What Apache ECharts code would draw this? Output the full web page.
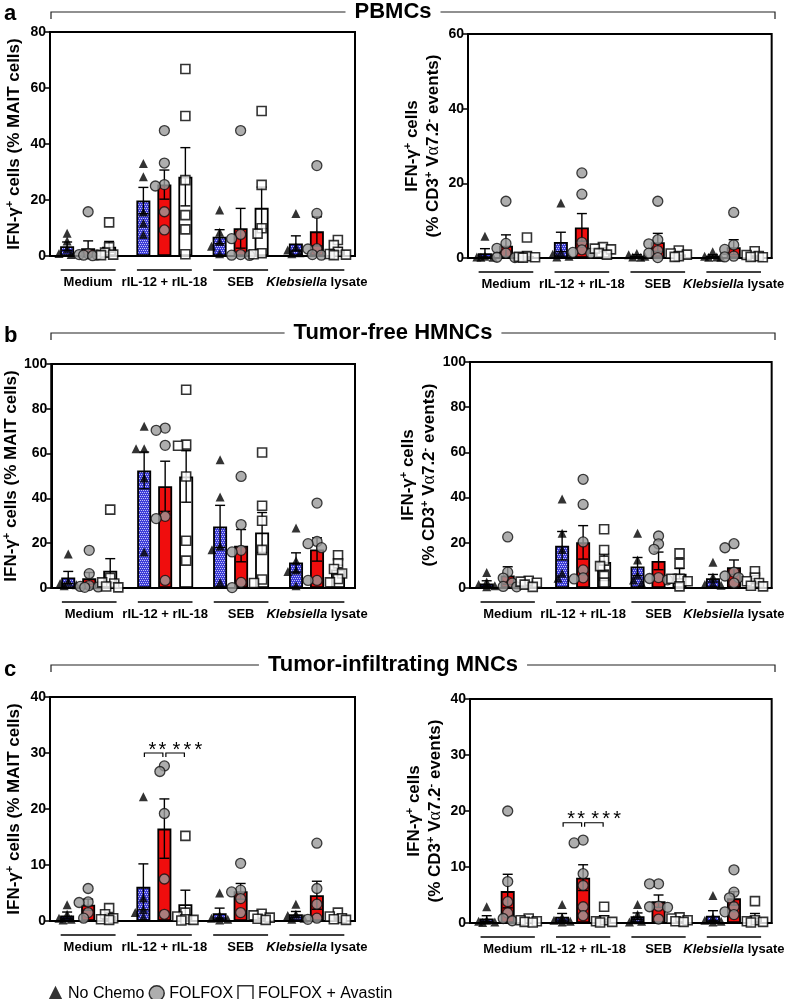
<!DOCTYPE html>
<html>
<head>
<meta charset="utf-8">
<script src="https://cdn.jsdelivr.net/npm/echarts@6/dist/echarts.min.js"></script>
<style>
  html, body { margin: 0; padding: 0; background: #fff; }
  #chart { width: 787px; height: 999px; }
</style>
</head>
<body>
<div id="chart"></div>
<script>
const categories = ['Medium', 'rIL-12 + rIL-18', 'SEB', 'Klebsiella lysate'];
const groups = ['No Chemo', 'FOLFOX', 'FOLFOX + Avastin'];
const sections = ['PBMCs', 'Tumor-free HMNCs', 'Tumor-infiltrating MNCs'];
const panelLetters = ['a', 'b', 'c'];
const sigLabels = ['**', '***'];

// rows = No Chemo, FOLFOX, FOLFOX + Avastin ; columns = categories
// a) PBMCs, % MAIT cells
const pbmcMaitMean = [[3.5, 19.8, 6.9, 4.5], [2.8, 25.5, 9.9, 8.8], [3.3, 28.3, 17.2, 2.1]];
const pbmcMaitSem = [[1.5, 4.7, 2.5, 2.7], [2.6, 5.2, 7.1, 5.2], [1.9, 10.4, 7.4, 0.9]];
const pbmcMaitPoints = [
    [[8.1, 5.4, 2.5, 0.9, 0.5], [33, 28.3, 15.7, 11.7, 7.7], [16.4, 8.5, 5.2, 3.5, 0.8], [15.2, 3.2, 2.1, 1.2, 0.8]],
    [[15.8, 0.8, 0.5, 0.4, 0.3, 0.1], [44.8, 33.2, 25.5, 25, 15.8, 9.3], [44.8, 7.7, 6.2, 0.5, 0.3, 0.2], [32.3, 15.2, 2.6, 2.5, 0.5, 0.3]],
    [[12, 3.1, 1.2, 0.5, 0.3], [66.8, 50, 27.1, 14.6, 9.5, 0.6], [51.8, 25.4, 9.9, 8, 1, 0.6], [5.7, 3.9, 1.5, 0.7, 0.5, 0.3]]
];
// a) PBMCs, % CD3+ Va7.2- events
const pbmcCd3Mean = [[1.3, 4.3, 0.6, 0.6], [3.3, 8.2, 4.2, 2.9], [0.5, 2.3, 1.0, 0.7]];
const pbmcCd3Sem = [[1.2, 2.6, 0.3, 0.3], [2.9, 3.7, 2.4, 2.0], [1.0, 0.4, 0.3, 0.3]];
const pbmcCd3Points = [
    [[5.8, 0.5, 0.3, 0.2, 0.2], [14.7, 1.5, 1.0, 0.5, 0.3], [1.2, 0.9, 0.5, 0.3, 0.2], [1.7, 0.5, 0.3, 0.2, 0.2]],
    [[15.2, 3.9, 2.6, 1.3, 0.2, 0.1], [22.8, 17.1, 4.2, 2.2, 1.5, 1.3], [15.2, 4.9, 3.8, 2.0, 1.3, 0.1], [12.2, 3.5, 2.3, 0.5, 0.3]],
    [[5.5, 0.5, 0.3, 0.2, 0.1], [2.9, 2.5, 2.3, 1.3, 0.9], [2.0, 1.2, 0.9, 0.5, 0.3], [1.8, 0.8, 0.5, 0.3, 0.2]]
];
// b) Tumor-free HMNCs, % MAIT cells
const hmncMaitMean = [[4.7, 52.5, 27.5, 11.4], [4.3, 45.4, 18.9, 17.2], [7.7, 49.8, 24.8, 8.3]];
const hmncMaitSem = [[2.7, 8.2, 9.4, 4.3], [2.6, 11.2, 7.2, 5.2], [5.4, 11.5, 8.9, 1.9]];
const hmncMaitPoints = [
    [[15.2, 3.0, 2.0, 1.5, 1.0], [72.2, 62.2, 62.2, 49.1, 16.1], [57.3, 40.6, 18.6, 17.1, 2.5], [26.8, 12.2, 8.0, 7.4, 1.0]],
    [[16.8, 6.4, 1.1, 0.7, 0.5, 0.3], [71.4, 70.4, 63.7, 32.0, 31.0, 3.4], [49.8, 28.3, 16.8, 16.1, 2.5, 0.2], [37.9, 20.8, 19.8, 18.0, 3.4, 3.4]],
    [[35.0, 4.5, 2.5, 2.0, 0.7, 0.3], [88.5, 64.0, 63.5, 49.8, 21.1, 12.2], [60.5, 36.7, 30.0, 17.0, 3.8, 2.2], [14.6, 11.0, 8.5, 6.5, 4.0, 2.5]]
];
// b) Tumor-free HMNCs, % CD3+ Va7.2- events
const hmncCd3Mean = [[2.0, 18.7, 9.5, 4.3], [5.5, 20.2, 12.0, 9.2], [2.0, 11.5, 6.3, 3.0]];
const hmncCd3Sem = [[1.2, 6.3, 4.0, 1.7], [3.9, 7.4, 3.9, 3.2], [0.6, 3.6, 2.3, 1.1]];
const hmncCd3Points = [
    [[6.9, 2.6, 1.5, 1.0, 0.5], [39.4, 24.2, 17.0, 6.5, 4.3], [24.2, 12.4, 5.8, 3.5, 2.2], [11.4, 4.9, 2.0, 1.5, 1.2]],
    [[22.6, 7.0, 4.4, 2.2, 0.7, 0.5], [48.1, 37.0, 20.4, 8.0, 4.5, 4.0], [23.0, 19.5, 17.1, 4.6, 4.2, 3.6], [19.6, 17.8, 7.0, 5.3, 4.6, 2.2]],
    [[3.2, 2.8, 2.3, 1.5, 0.5], [26.0, 16.8, 12.1, 9.7, 5.3, 2.4], [15.3, 10.8, 4.1, 4.1, 3.0, 0.7], [7.4, 4.6, 3.0, 2.2, 1.0, 0.7]]
];
// c) Tumor-infiltrating MNCs, % MAIT cells
const tilMaitMean = [[1.0, 6.1, 1.4, 1.2], [2.9, 16.5, 5.3, 4.6], [0.9, 3.0, 0.7, 0.6]];
const tilMaitSem = [[0.6, 4.1, 0.9, 0.5], [1.0, 5.3, 1.4, 2.5], [0.4, 2.5, 0.2, 0.2]];
const tilMaitPoints = [
    [[2.9, 1.2, 0.5, 0.3, 0.2], [22.2, 4.1, 2.0, 1.5, 0.7], [5.0, 1.0, 0.5, 0.3, 0.2], [3.0, 1.2, 1.0, 0.5, 0.3]],
    [[5.8, 3.4, 3.3, 1.5, 0.5], [27.7, 26.7, 19.2, 7.5, 1.2], [10.3, 5.5, 5.2, 4.0, 1.5], [13.9, 5.8, 3.0, 0.5, 0.3]],
    [[2.3, 1.2, 0.5, 0.3, 0.2], [15.2, 1.5, 0.8, 0.3, 0.2, 0.1], [1.3, 1.0, 0.6, 0.4, 0.2], [1.5, 0.8, 0.5, 0.3, 0.2]]
];
// c) Tumor-infiltrating MNCs, % CD3+ Va7.2- events
const tilCd3Mean = [[0.8, 1.1, 1.2, 1.3], [5.7, 8.1, 3.9, 4.4], [0.4, 0.8, 0.6, 1.0]];
const tilCd3Sem = [[0.5, 0.6, 0.6, 0.9], [3.0, 2.3, 1.1, 1.2], [0.1, 0.5, 0.2, 0.7]];
const tilCd3Points = [
    [[2.9, 0.5, 0.3, 0.2, 0.1], [3.3, 1.0, 0.5, 0.3, 0.2], [3.3, 1.5, 0.6, 0.3, 0.2], [4.9, 1.0, 0.5, 0.3, 0.2]],
    [[20.0, 7.4, 3.8, 1.8, 0.8, 0.4], [14.8, 14.3, 8.8, 6.7, 2.9, 1.3], [7.0, 7.0, 3.0, 2.9, 2.8, 0.7], [9.5, 5.5, 4.5, 2.9, 2.0, 1.5]],
    [[0.8, 0.5, 0.3, 0.2, 0.1], [2.9, 0.5, 0.3, 0.2, 0.1], [1.0, 0.8, 0.5, 0.3, 0.2], [3.9, 0.5, 0.3, 0.2, 0.1]]
];
// significance brackets (rIL-12 + rIL-18), height in axis units
const tilMaitSigAt = 30;
const tilCd3SigAt = 17.9;

const FONT = 'Arial, "Liberation Sans", Helvetica, sans-serif';
const BAR_W = 14;
const BAR_STEP = 21;

const maitTitle = '{b|IFN-γ}{s|+}{b| cells (% MAIT cells)}';
const cd3Title = '{b|IFN-γ}{s|+}{b| cells}\n{b|(% CD3}{s|+}{b| V}{g|α}{b|7.2}{s|-}{b| events)}';

const panels = [
    { mean: pbmcMaitMean, sem: pbmcMaitSem, points: pbmcMaitPoints, max: 80, step: 20, title: maitTitle },
    { mean: pbmcCd3Mean, sem: pbmcCd3Sem, points: pbmcCd3Points, max: 60, step: 20, title: cd3Title },
    { mean: hmncMaitMean, sem: hmncMaitSem, points: hmncMaitPoints, max: 100, step: 20, title: maitTitle },
    { mean: hmncCd3Mean, sem: hmncCd3Sem, points: hmncCd3Points, max: 100, step: 20, title: cd3Title },
    { mean: tilMaitMean, sem: tilMaitSem, points: tilMaitPoints, max: 40, step: 10, title: maitTitle, sig: tilMaitSigAt },
    { mean: tilCd3Mean, sem: tilCd3Sem, points: tilCd3Points, max: 40, step: 10, title: cd3Title, sig: tilCd3SigAt }
];

const layout = [
    { left: 50, top: 32, width: 305, height: 224 },
    { left: 468, top: 34, width: 306, height: 224 },
    { left: 50, top: 364, width: 305, height: 224 },
    { left: 470, top: 362, width: 306, height: 226 },
    { left: 50, top: 697, width: 305, height: 224 },
    { left: 470, top: 699, width: 306, height: 224 }
];

function makeBlue() {
    const c = document.createElement('canvas');
    c.width = 4; c.height = 4;
    const ctx = c.getContext('2d');
    ctx.fillStyle = '#3d3dd8';
    ctx.fillRect(0, 0, 4, 4);
    ctx.fillStyle = '#c4c4f6';
    [[0, 0], [2, 0], [1, 2], [3, 2]].forEach(([x, y]) => ctx.fillRect(x, y, 1, 1));
    return c;
}

const barFills = [{ image: makeBlue(), repeat: 'repeat' }, '#f00d0d', '#ffffff'];
const symbols = ['triangle', 'circle', 'rect'];
const symbolSizes = [9, 10, 9];
const pointStyles = [
    { color: '#000', borderColor: '#000', borderWidth: 0 },
    { color: '#9a9a9a', borderColor: '#111', borderWidth: 1.3 },
    { color: '#fff', borderColor: '#000', borderWidth: 1.6 }
];

// tight beeswarm: close values spread sideways a little, overlap allowed
function swarm(values, pxPerUnit, d) {
    const placed = [];
    const out = new Array(values.length).fill(0);
    const order = values.map((v, i) => i).sort((a, b) => values[b] - values[a]);
    const cands = [0, -1, 1, -2, 2].map(k => k * d * 0.45);
    order.forEach(i => {
        const y = values[i] * pxPerUnit;
        let best = 0, bestScore = -1;
        for (const dx of cands) {
            const minD = placed.length ? Math.min(...placed.map(p => Math.hypot(p.x - dx, p.y - y))) : 99;
            if (minD >= d * 0.7) { best = dx; bestScore = 99; break; }
            if (minD > bestScore) { bestScore = minD; best = dx; }
        }
        placed.push({ x: best, y });
        out[i] = best;
    });
    return out;
}

const nameRich = {
    b: { fontSize: 17, fontWeight: 'bold', color: '#000', lineHeight: 21, fontFamily: FONT },
    s: { fontSize: 11, fontWeight: 'bold', color: '#000', lineHeight: 12, verticalAlign: 'top', fontFamily: FONT },
    g: { fontSize: 18, fontWeight: 'normal', color: '#000', lineHeight: 21, fontFamily: '"Liberation Serif", serif' }
};

const grids = [], xAxes = [], yAxes = [], series = [];

panels.forEach((p, i) => {
    const lay = layout[i];
    const isRight = i % 2 === 1;
    grids.push({ ...lay, show: true, borderColor: '#000', borderWidth: 2, backgroundColor: 'transparent' });

    xAxes.push({
        type: 'category', gridIndex: i, data: categories,
        axisLine: { lineStyle: { color: '#000', width: 2 } },
        axisTick: { alignWithLabel: true, length: 6, lineStyle: { color: '#000', width: 1.5 } },
        axisLabel: {
            interval: 0, margin: 20, color: '#000', fontSize: 13, fontWeight: 'bold', fontFamily: FONT,
            formatter: v => v.startsWith('Klebsiella') ? '{i|Klebsiella} lysate' : v,
            rich: { i: { fontStyle: 'italic', fontWeight: 'bold', fontSize: 13, color: '#000', fontFamily: FONT } }
        }
    });

    yAxes.push({
        type: 'value', gridIndex: i, min: 0, max: p.max, interval: p.step,
        name: p.title, nameLocation: 'middle', nameRotate: 90, nameGap: isRight ? 24 : 25,
        nameTextStyle: { rich: nameRich, color: '#000', align: 'center' },
        axisLine: { show: true, lineStyle: { color: '#000', width: 2 } },
        axisTick: { show: true, length: 5, lineStyle: { color: '#000', width: 1.5 } },
        axisLabel: { color: '#000', fontSize: 14, fontWeight: 'bold', fontFamily: FONT, margin: 4 },
        splitLine: { show: false }
    });

    groups.forEach((g, gi) => {
        series.push({
            type: 'bar', name: g + ' (mean)', xAxisIndex: i, yAxisIndex: i,
            data: p.mean[gi], barWidth: BAR_W, barGap: '50%',
            itemStyle: { color: barFills[gi], borderColor: '#000', borderWidth: 1.8 },
            z: 2, silent: true
        });
    });

    const errData = [];
    groups.forEach((g, gi) => p.mean[gi].forEach((m, c) => errData.push([c, m, p.sem[gi][c], gi])));
    series.push({
        type: 'custom', xAxisIndex: i, yAxisIndex: i, z: 3, clip: false, silent: true,
        encode: { x: 0, y: 1 },
        data: errData,
        renderItem: (params, api) => {
            const c = api.value(0), m = api.value(1), s = api.value(2), gi = api.value(3);
            const top = api.coord([c, m + s]);
            const bot = api.coord([c, Math.max(m - s, 0)]);
            const x = top[0] + (gi - 1) * BAR_STEP;
            const st = { stroke: '#000', lineWidth: 1.4 };
            return {
                type: 'group', children: [
                    { type: 'line', shape: { x1: x, y1: top[1], x2: x, y2: bot[1] }, style: st },
                    { type: 'line', shape: { x1: x - 5, y1: top[1], x2: x + 5, y2: top[1] }, style: st },
                    { type: 'line', shape: { x1: x - 5, y1: bot[1], x2: x + 5, y2: bot[1] }, style: st }
                ]
            };
        }
    });

    const pxPerUnit = lay.height / p.max;
    groups.forEach((g, gi) => {
        const data = [];
        p.points[gi].forEach((vals, c) => {
            const jit = swarm(vals, pxPerUnit, symbolSizes[gi]);
            vals.forEach((v, k) => data.push({ value: [c, v], symbolOffset: [(gi - 1) * BAR_STEP + jit[k], 0] }));
        });
        series.push({
            type: 'scatter', name: g, xAxisIndex: i, yAxisIndex: i, z: 4, silent: true,
            symbol: symbols[gi], symbolSize: symbolSizes[gi], itemStyle: pointStyles[gi],
            data
        });
    });

    // category underline
    series.push({
        type: 'custom', xAxisIndex: i, yAxisIndex: i, z: 3, clip: false, silent: true,
        encode: { x: 0, y: 1 },
        data: categories.map((c, k) => [k, 0]),
        renderItem: (params, api) => {
            const pt = api.coord([api.value(0), 0]);
            const bw = api.size([1, 0])[0];
            return {
                type: 'line',
                shape: { x1: pt[0] - bw * 0.36, y1: pt[1] + 14, x2: pt[0] + bw * 0.36, y2: pt[1] + 14 },
                style: { stroke: '#000', lineWidth: 1.3 }
            };
        }
    });

    if (p.sig !== undefined) {
        series.push({
            type: 'custom', xAxisIndex: i, yAxisIndex: i, z: 5, clip: false, silent: true,
            encode: { x: 0, y: 1 },
            data: [[1, p.sig]],
            renderItem: (params, api) => {
                const pt = api.coord([api.value(0), api.value(1)]);
                const x = pt[0], y = pt[1];
                const st = { stroke: '#000', lineWidth: 1.2, fill: null };
                const starX = [[-12, -2], [12, 23, 34]];
                const kids = [
                    { type: 'polyline', shape: { points: [[x - 20, y + 4], [x - 20, y], [x - 1.5, y], [x - 1.5, y + 4]] }, style: st },
                    { type: 'polyline', shape: { points: [[x + 1.5, y + 4], [x + 1.5, y], [x + 20, y], [x + 20, y + 4]] }, style: st }
                ];
                sigLabels.forEach((lab, li) => {
                    lab.split('').forEach((ch, ci) => kids.push({
                        type: 'text',
                        style: { text: ch, x: x + starX[li][ci], y: y - 3, fill: '#000', font: '20px ' + FONT, align: 'center', verticalAlign: 'middle' }
                    }));
                });
                return { type: 'group', children: kids };
            }
        });
    }
});

const headerY = [12, 333, 665];
const letterY = [14, 336, 670];
const graphic = [];
sections.forEach((t, k) => {
    const y = headerY[k];
    graphic.push({
        type: 'polyline', z: 1,
        shape: { points: [[51, y + 7], [51, y], [775, y], [775, y + 7]] },
        style: { stroke: '#222', lineWidth: 1.2, fill: null }
    });
    graphic.push({
        type: 'text', x: 393, y: y, z: 10,
        style: { text: t, fill: '#000', font: 'bold 22px ' + FONT, align: 'center', verticalAlign: 'middle', textAlign: 'center', textVerticalAlign: 'middle', backgroundColor: '#fff', padding: [0, 9] }
    });
    graphic.push({
        type: 'text', x: 4, y: letterY[k], z: 10,
        style: { text: panelLetters[k], fill: '#000', font: 'bold 22px ' + FONT, verticalAlign: 'middle', textVerticalAlign: 'middle' }
    });
});

const chart = echarts.init(document.getElementById('chart'), null, { renderer: 'canvas' });
chart.setOption({
    animation: false,
    backgroundColor: '#fff',
    textStyle: { fontFamily: FONT },
    grid: grids,
    xAxis: xAxes,
    yAxis: yAxes,
    legend: {
        left: 43, top: 980, itemWidth: 15, itemHeight: 15, itemGap: 4, selectedMode: false,
        textStyle: { fontSize: 16, color: '#000', fontFamily: FONT },
        data: [
            { name: 'No Chemo', icon: 'triangle', itemStyle: { color: '#000', borderWidth: 0 } },
            { name: 'FOLFOX', icon: 'circle', itemStyle: { color: '#9a9a9a', borderColor: '#000', borderWidth: 1.5 } },
            { name: 'FOLFOX + Avastin', icon: 'rect', itemStyle: { color: '#fff', borderColor: '#000', borderWidth: 1.5 } }
        ]
    },
    graphic: graphic,
    series: series
});
</script>
</body>
</html>
